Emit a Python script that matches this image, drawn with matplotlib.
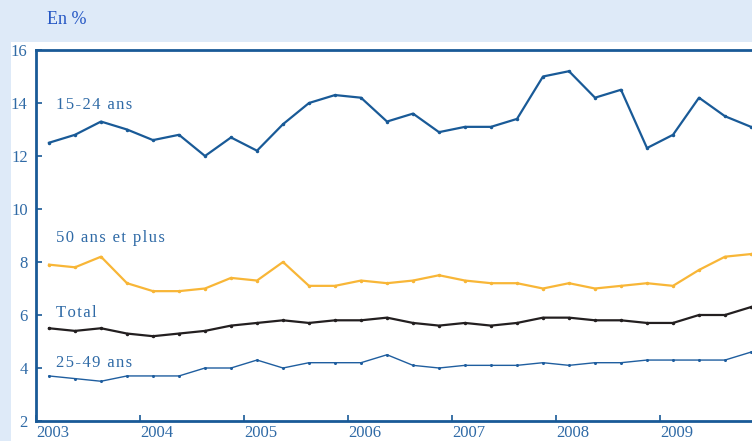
import matplotlib
matplotlib.use("Agg")
import matplotlib.pyplot as plt
from matplotlib.patches import Rectangle
import numpy as np

# Data: quarterly unemployment rate (%) 2003Q1 - 2009Q4
quarters = [f"{y}T{q}" for y in range(2003, 2010) for q in range(1, 5)]
s_15_24 = [12.5, 12.8, 13.3, 13.0, 12.6, 12.8, 12.0, 12.7, 12.2, 13.2, 14.0, 14.3,
           14.2, 13.3, 13.6, 12.9, 13.1, 13.1, 13.4, 15.0, 15.2, 14.2, 14.5, 12.3,
           12.8, 14.2, 13.5, 13.1]
s_50_plus = [7.9, 7.8, 8.2, 7.2, 6.9, 6.9, 7.0, 7.4, 7.3, 8.0, 7.1, 7.1,
             7.3, 7.2, 7.3, 7.5, 7.3, 7.2, 7.2, 7.0, 7.2, 7.0, 7.1, 7.2,
             7.1, 7.7, 8.2, 8.3]
s_total = [5.5, 5.4, 5.5, 5.3, 5.2, 5.3, 5.4, 5.6, 5.7, 5.8, 5.7, 5.8,
           5.8, 5.9, 5.7, 5.6, 5.7, 5.6, 5.7, 5.9, 5.9, 5.8, 5.8, 5.7,
           5.7, 6.0, 6.0, 6.3]
s_25_49 = [3.7, 3.6, 3.5, 3.7, 3.7, 3.7, 4.0, 4.0, 4.3, 4.0, 4.2, 4.2,
           4.2, 4.5, 4.1, 4.0, 4.1, 4.1, 4.1, 4.2, 4.1, 4.2, 4.2, 4.3,
           4.3, 4.3, 4.3, 4.6]
series_names = ["15-24 ans", "50 ans et plus", "Total", "25-49 ans"]
years = [2003, 2004, 2005, 2006, 2007, 2008, 2009]
year_labels = [str(y) for y in years]
yticks = [2, 4, 6, 8, 10, 12, 14, 16]

x = np.array([int(q[:4]) + (int(q[-1]) - 0.5) / 4 for q in quarters])

BG = "#deeaf8"
BLUE = "#195a97"
TXT = "#2f6aa6"
ORANGE = "#f8b637"
BLACK = "#231f20"

plt.rcParams['font.family'] = ['Liberation Serif', 'DejaVu Serif']


def spaced(s):
    # mimic the letter-spacing of the reference labels
    return "\u200a".join(s)


fig = plt.figure(figsize=(7.52, 4.41), dpi=100)
fig.patch.set_facecolor(BG)
fig.add_artist(Rectangle((11 / 752, 0), 1 - 11 / 752, (441 - 42) / 441,
                         transform=fig.transFigure, facecolor="white",
                         edgecolor="none", zorder=0))
fig.text(47 / 752, 1 - 20 / 441, "En %", color="#2456c4", fontsize=13,
         va="center", ha="left")

ax = fig.add_axes([36 / 752, 20 / 441, 1 - 36 / 752, (421 - 50) / 441])
ax.set_facecolor("white")

ax.plot(x, s_15_24, color=BLUE, lw=1.6, marker="o", ms=1.5)
ax.plot(x, s_50_plus, color=ORANGE, lw=1.6, marker="o", ms=1.5)
ax.plot(x, s_total, color=BLACK, lw=1.6, marker="o", ms=1.5)
ax.plot(x, s_25_49, color="#1f5e9f", lw=1.0, marker="o", ms=1.2)

lab_kw = dict(color=TXT, fontsize=12, va="center", ha="left")
ax.text(2003.19, 13.92, spaced(series_names[0]), **lab_kw)
ax.text(2003.19, 8.89, spaced(series_names[1]), **lab_kw)
ax.text(2003.19, 6.09, spaced(series_names[2]), **lab_kw)
ax.text(2003.19, 4.2, spaced(series_names[3]), **lab_kw)

ax.set_xlim(2003, 2003 + 716 / 104)
ax.set_ylim(2, 16)
ax.set_yticks(yticks)
ax.set_yticklabels([str(v) for v in yticks])
ax.set_xticks(years)
ax.set_xticklabels(year_labels, ha="left")

ax.tick_params(axis="both", direction="in", color=BLUE, labelcolor=TXT,
               labelsize=12, length=4, width=1.2)
ax.tick_params(axis="x", pad=3)
ax.tick_params(axis="y", pad=6)

for side in ["left", "top", "bottom"]:
    ax.spines[side].set_color(BLUE)
    ax.spines[side].set_linewidth(2)
ax.spines["right"].set_visible(False)

fig.savefig("out.png", dpi=100, facecolor=BG)
